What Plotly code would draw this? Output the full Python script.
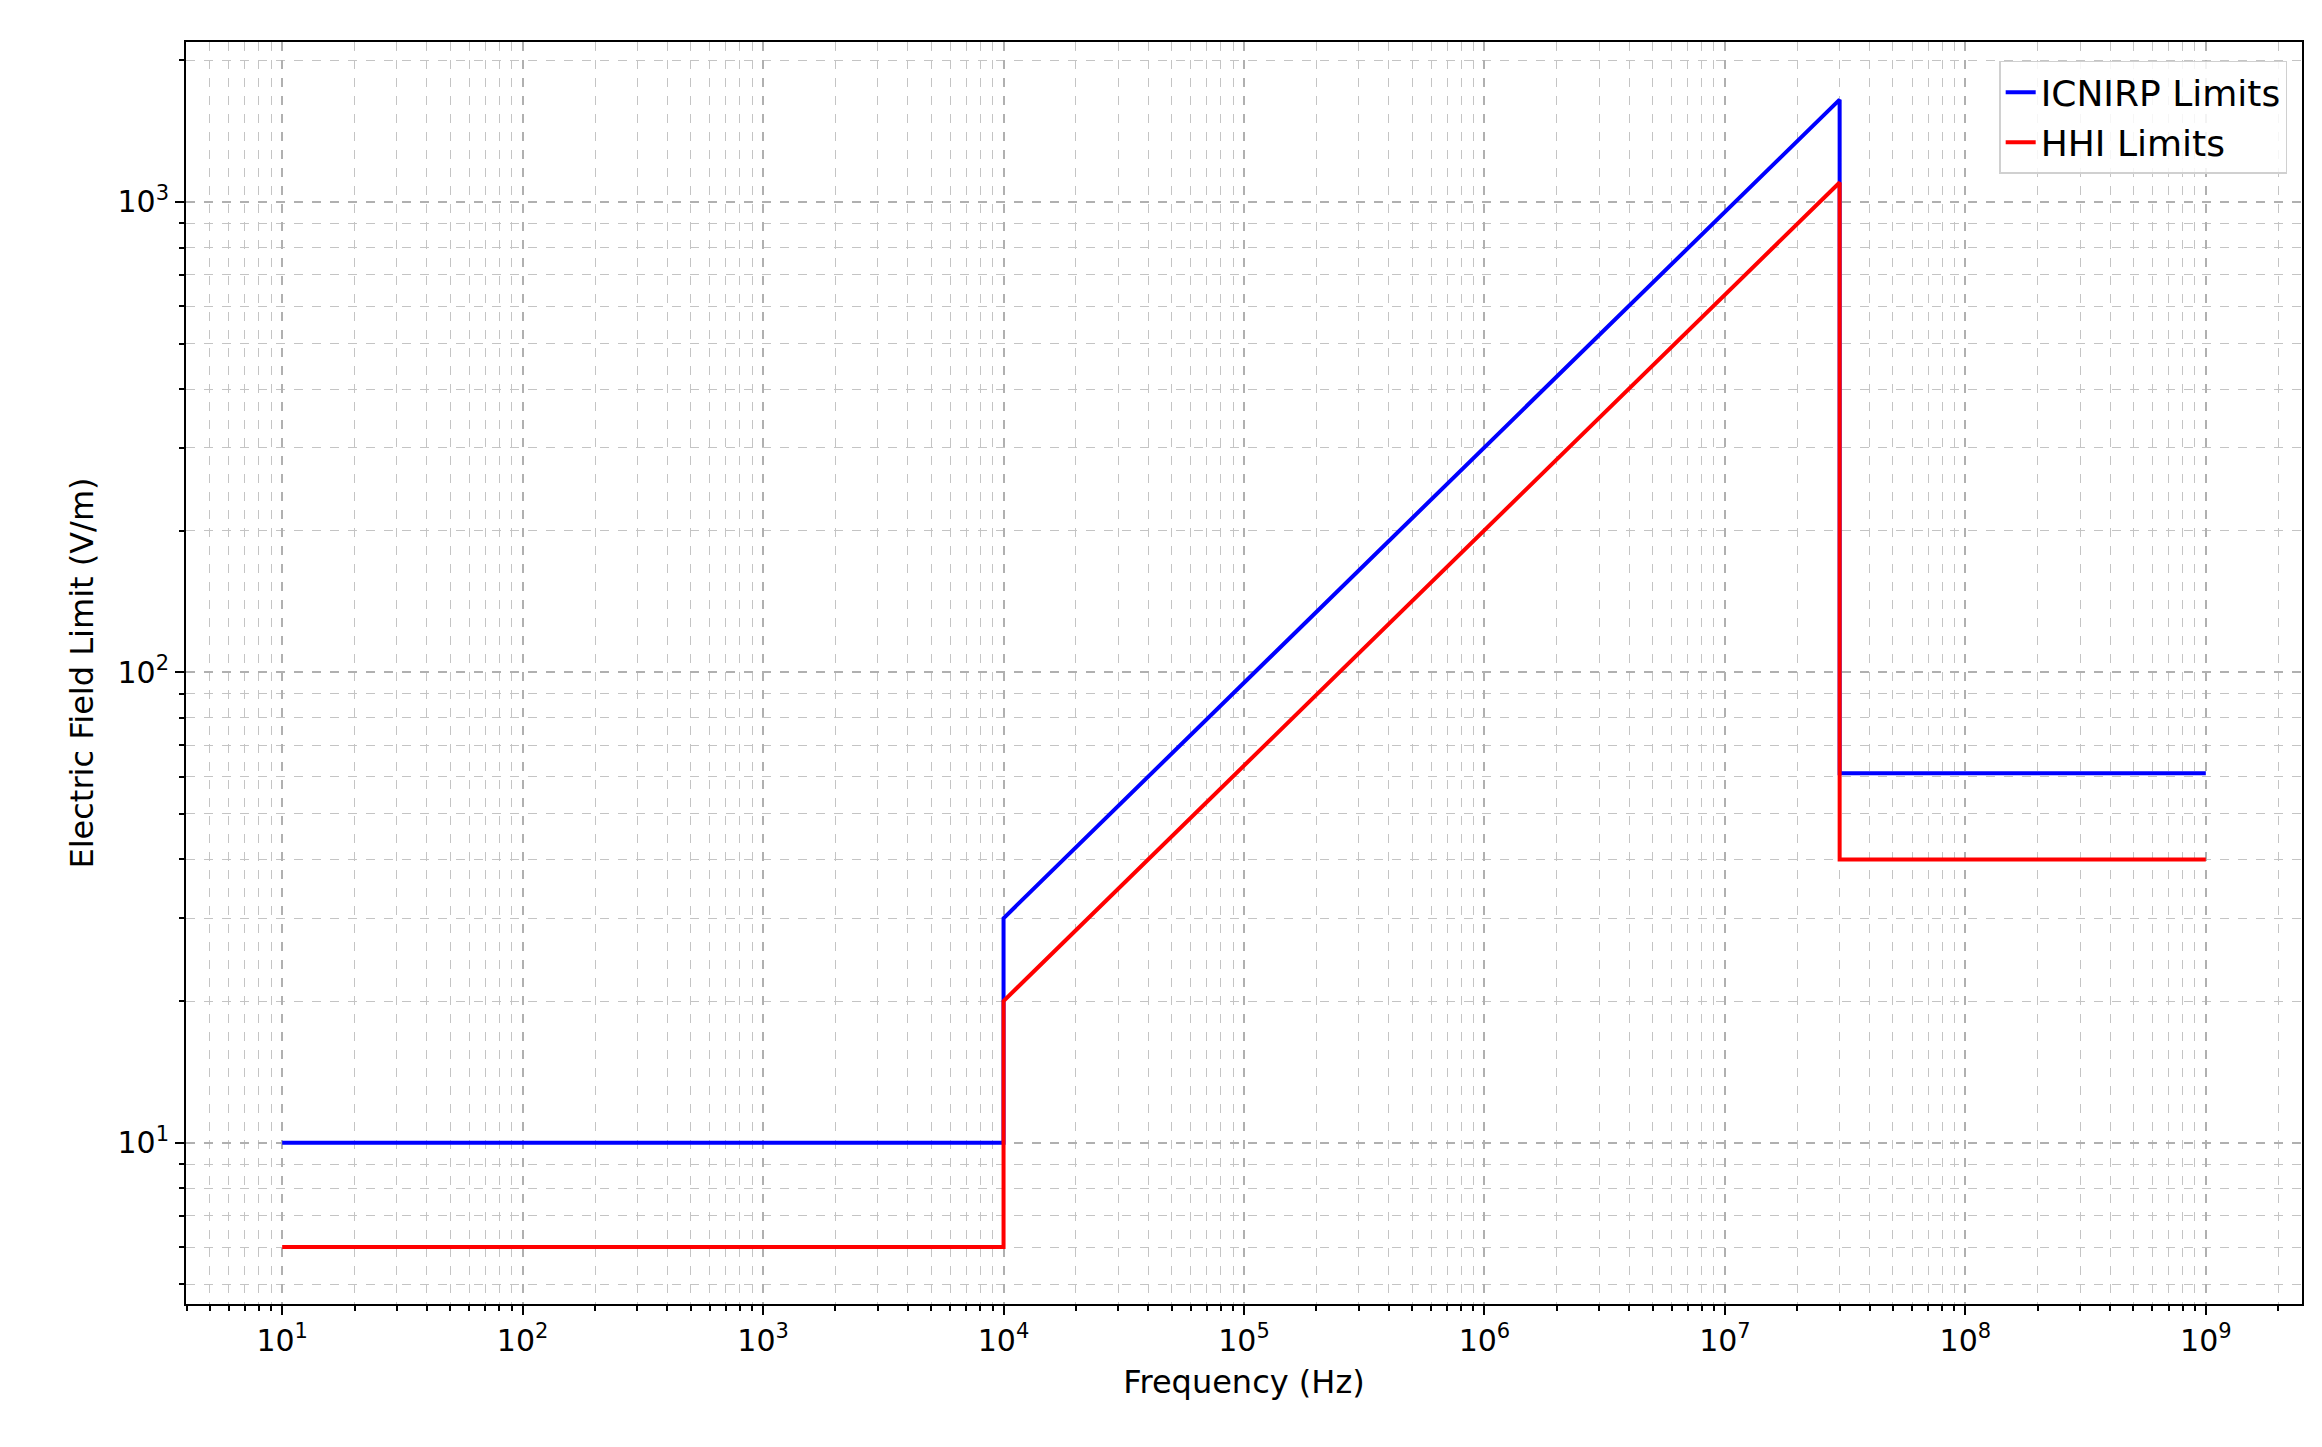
import plotly.graph_objects as go

# frequencies (Hz) and limits (V/m)
icnirp_freq = [10, 1e4, 1e4, 3e7, 3e7, 1e9]
icnirp_e = [10, 10, 30, 1650, 61, 61]
hhi_freq = [10, 1e4, 1e4, 3e7, 3e7, 1e9]
hhi_e = [6, 6, 20, 1100, 40, 40]

x_ticks = [10 ** k for k in range(1, 10)]
x_labels = [f"10<sup>{k}</sup>" for k in range(1, 10)]
y_ticks = [10, 100, 1000]
y_labels = ["10<sup>1</sup>", "10<sup>2</sup>", "10<sup>3</sup>"]

# minor grid positions: 2..9 times each decade
x_minor = [m * 10 ** k for k in range(0, 10) for m in range(2, 10)]
y_minor = [m * 10 ** k for k in range(0, 4) for m in range(2, 10)]

fig = go.Figure()
fig.add_trace(go.Scatter(x=icnirp_freq, y=icnirp_e, mode='lines', name='ICNIRP Limits',
                         line=dict(color='#0000ff', width=4)))
fig.add_trace(go.Scatter(x=hhi_freq, y=hhi_e, mode='lines', name='HHI Limits',
                         line=dict(color='#ff0000', width=4)))

axis_common = dict(
    type='log', showline=True, linecolor='black', linewidth=2, mirror=True,
    ticks='outside', ticklen=9, tickwidth=1.5, tickcolor='black',
    showgrid=True, gridcolor='#b0b0b0', griddash='dash', gridwidth=1.5,
    zeroline=False, tickfont=dict(size=30, color='black'),
)

fig.update_layout(
    width=2322, height=1447,
    paper_bgcolor='white', plot_bgcolor='white',
    font=dict(family='DejaVu Sans', color='black'),
    margin=dict(l=178, r=28, t=34, b=151),
    xaxis=dict(axis_common, range=[0.6, 9.4], tickvals=x_ticks, ticktext=x_labels,
               minor=dict(tickvals=x_minor, ticks='outside', ticklen=5, tickcolor='black',
                          showgrid=True, gridcolor='#c4c4c4', griddash='dash', gridwidth=1.2),
               title=dict(text='Frequency (Hz)', font=dict(size=32), standoff=14)),
    yaxis=dict(axis_common, range=[0.657, 3.34], tickvals=y_ticks, ticktext=y_labels,
               minor=dict(tickvals=y_minor, ticks='outside', ticklen=5, tickcolor='black',
                          showgrid=True, gridcolor='#c4c4c4', griddash='dash', gridwidth=1.2),
               title=dict(text='Electric Field Limit (V/m)', font=dict(size=32), standoff=14)),
    legend=dict(x=0.993, y=0.985, xanchor='right', yanchor='top',
                bgcolor='rgba(255,255,255,0.85)', bordercolor='#d0d0d0', borderwidth=1.5,
                font=dict(size=36)),
)

fig.write_html("out.html")
